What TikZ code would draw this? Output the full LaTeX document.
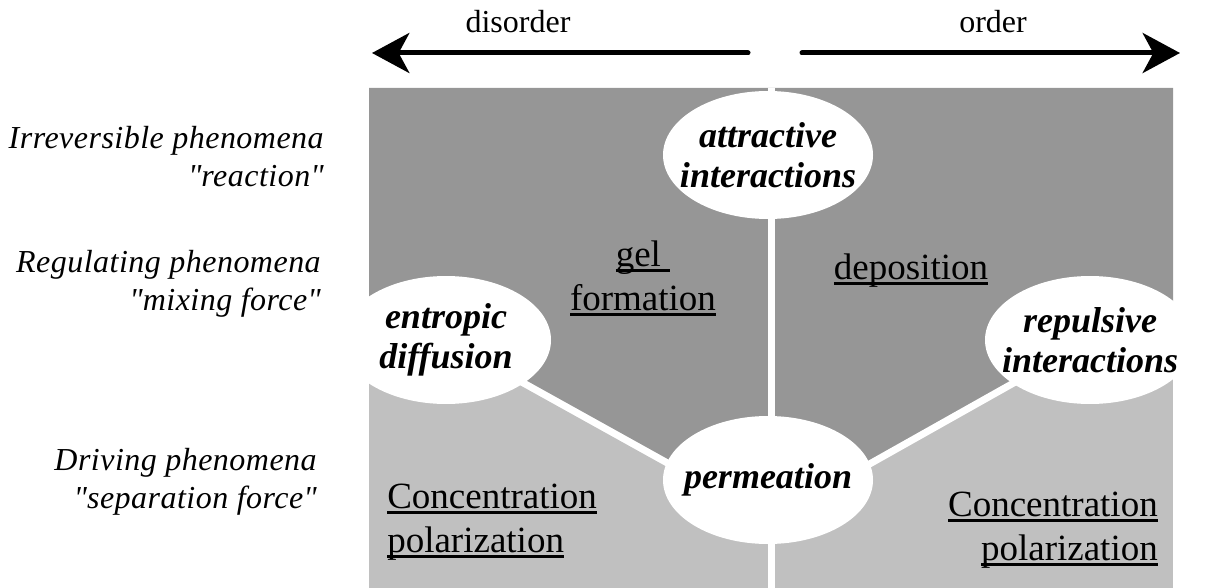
\documentclass[tikz,border=0pt]{standalone}
\usepackage{fontspec}
\setmainfont{Liberation Serif}
\usetikzlibrary{shapes.geometric,arrows.meta}
\definecolor{darkfield}{gray}{0.59}
\definecolor{lightfield}{gray}{0.753}
\newcommand{\undl}[1]{\leavevmode\setbox0\hbox{#1}\rlap{\rule[-0.15em]{\wd0}{0.07em}}\box0}

\begin{document}
\begin{tikzpicture}[x=0.75pt, y=-0.75pt,
  bubble/.style={draw=none, ellipse, fill=white, minimum width=157.5pt, minimum height=96pt, inner sep=0pt},
  bubtext/.style={align=center, font=\fontsize{27}{30}\selectfont\bfseries\itshape, inner sep=0pt},
  rowlabel/.style={align=right, anchor=east, font=\fontsize{24}{28.5}\selectfont\itshape\addfontfeatures{LetterSpace=1.5}, inner sep=0pt},
  fieldtext/.style={font=\fontsize{27.75}{33}\selectfont, inner sep=0pt},
  trend/.style={line width=3.75pt, line cap=round, -{Stealth[length=28pt, width=30pt, inset=8pt]}},
  sepline/.style={draw=white, line width=5.25pt}]
\useasboundingbox (0,0) rectangle (1206,588);
\fill[lightfield] (369,88) rectangle (1173,588);
\fill[darkfield] (369,88) -- (1173,88) -- (1173,340) -- (1090,340) -- (770,520) -- (446,340) -- (369,340) -- cycle;
\coordinate (top) at (771.5,88);
\coordinate (bottom) at (771.5,588);
\coordinate (junction) at (770,520);
\coordinate (leftstart) at (748,53);
\coordinate (lefttip) at (372,53);
\coordinate (rightstart) at (802,53);
\coordinate (righttip) at (1180,53);
\draw[sepline] (top) -- (bottom);
\node[bubble, label={[bubtext]center:{attractive\\interactions}}] (attract) at (768,155) {};
\node[bubble, label={[bubtext]center:{entropic\\diffusion}}] (entropic) at (446,340) {};
\node[bubble, label={[bubtext]center:{repulsive\\interactions}}] (repulse) at (1090,340) {};
\draw[sepline, shorten <=-4pt] (entropic) -- (junction);
\draw[sepline, shorten <=-4pt] (repulse) -- (junction);
\node[bubble, label={[bubtext]center:{permeation}}] (permeat) at (768,480) {};
\draw[trend] (leftstart) -- (lefttip);
\draw[trend] (rightstart) -- (righttip);
\node[fieldtext, font=\fontsize{24}{28}\selectfont, anchor=base] (disorder) at (518,33) {disorder};
\node[fieldtext, font=\fontsize{24}{28}\selectfont, anchor=base] (order) at (993,33) {order};
\node[rowlabel] (irrev) at (324,157) {Irreversible phenomena\\\textquotedbl reaction\textquotedbl};
\node[rowlabel] (regul) at (321,284) {Regulating phenomena\\\textquotedbl mixing force\textquotedbl};
\node[rowlabel] (driving) at (317,482) {Driving phenomena\\\textquotedbl separation force\textquotedbl};
\node[fieldtext, align=center] (gel) at (643,278) {\undl{gel\ }\\\undl{formation}};
\node[fieldtext, anchor=base] (depos) at (911,279) {\undl{deposition}};
\node[fieldtext, align=left, anchor=west] (concleft) at (387,522) {\undl{Concentration}\\\undl{polarization}};
\node[fieldtext, align=right, anchor=east] (concright) at (1158,530) {\undl{Concentration}\\\undl{polarization}};
\end{tikzpicture}
\end{document}
